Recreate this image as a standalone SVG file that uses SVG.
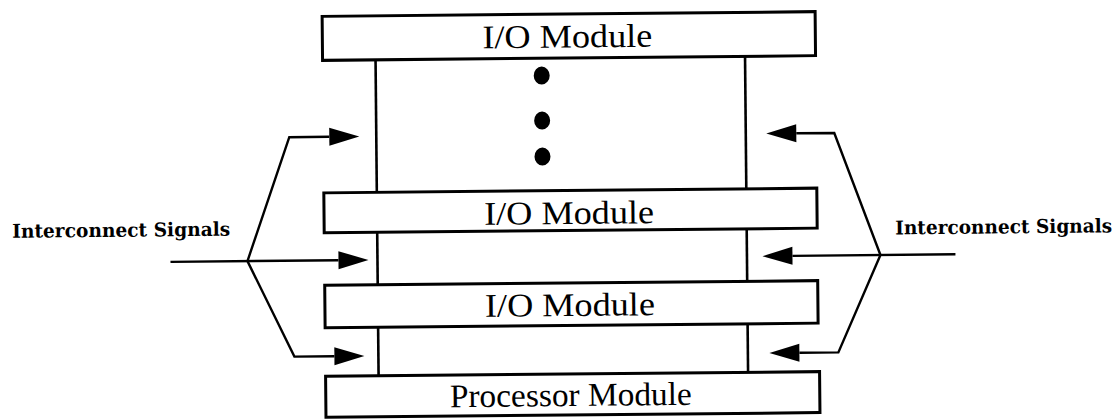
<svg xmlns="http://www.w3.org/2000/svg" width="1120" height="419" viewBox="0 0 1120 419">
<style>
.box{fill:#fff;stroke:#000;stroke-width:3}
.bus{stroke:#000;stroke-width:2.6;fill:none}
.wire{stroke:#000;stroke-width:2.4;fill:none;stroke-linejoin:miter}
.mod{font-family:"Liberation Serif","Times New Roman",serif;font-size:33px;fill:#000;text-anchor:middle}
.lbl{font-family:"DejaVu Serif","Liberation Serif",serif;font-size:19px;font-weight:bold;fill:#000}
.dot{fill:#000}
</style>
<defs>
<marker id="ah" markerUnits="userSpaceOnUse" markerWidth="31" markerHeight="19" refX="0" refY="9" orient="auto" overflow="visible">
<path d="M0,0 L30,9 L0,18 z" fill="#000"/>
</marker>
</defs>
<rect width="1120" height="419" fill="#fff"/>
<g transform="rotate(-0.55 570 210)">
<g id="bus">
<line class="bus" x1="377" y1="58" x2="377" y2="190.5"/>
<line class="bus" x1="377" y1="230.5" x2="377" y2="283"/>
<line class="bus" x1="377" y1="325.5" x2="377" y2="374"/>
<line class="bus" x1="746.5" y1="58" x2="746.5" y2="190.5"/>
<line class="bus" x1="746.5" y1="230.5" x2="746.5" y2="283"/>
<line class="bus" x1="746.5" y1="325.5" x2="746.5" y2="374"/>
</g>
<g id="io1">
<rect class="box" x="324" y="14" width="493" height="44"/>
<text class="mod" x="569" y="47.5" textLength="170" lengthAdjust="spacingAndGlyphs">I/O Module</text>
</g>
<g id="ellipsis">
<ellipse class="dot" cx="543" cy="75.3" rx="8" ry="9"/>
<ellipse class="dot" cx="543" cy="120.3" rx="8" ry="9"/>
<ellipse class="dot" cx="543" cy="156.3" rx="8" ry="9"/>
</g>
<g id="io2">
<rect class="box" x="324" y="190.5" width="493" height="40"/>
<text class="mod" x="569" y="224" textLength="170" lengthAdjust="spacingAndGlyphs">I/O Module</text>
</g>
<g id="io3">
<rect class="box" x="324" y="283" width="493" height="42.5"/>
<text class="mod" x="569" y="316" textLength="170" lengthAdjust="spacingAndGlyphs">I/O Module</text>
</g>
<g id="proc">
<rect class="box" x="324" y="374" width="494" height="41"/>
<text class="mod" x="569" y="406" textLength="242" lengthAdjust="spacingAndGlyphs">Processor Module</text>
</g>
<g id="label-left">
<text class="lbl" x="12" y="232.4" textLength="218" lengthAdjust="spacingAndGlyphs">Interconnect Signals</text>
</g>
<g id="label-right">
<text class="lbl" x="895" y="237.5" textLength="217" lengthAdjust="spacingAndGlyphs">Interconnect Signals</text>
</g>
<g id="connectors">
<path class="wire" d="M170,258 L338,258" marker-end="url(#ah)"/>
<path class="wire" d="M247,258 L290,134.5 L330,134.5" marker-end="url(#ah)"/>
<path class="wire" d="M247,258 L293,354 L333,354" marker-end="url(#ah)"/>
<path class="wire" d="M955,258 L792,258" marker-end="url(#ah)"/>
<path class="wire" d="M880,258 L835,135.5 L797,135.5" marker-end="url(#ah)"/>
<path class="wire" d="M880,258 L837,355 L798,355" marker-end="url(#ah)"/>
</g>
</g>
</svg>
